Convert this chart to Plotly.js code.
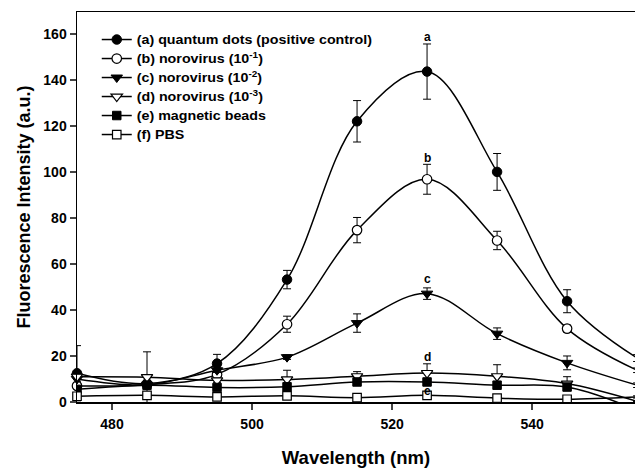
<!DOCTYPE html>
<html><head><meta charset="utf-8">
<script src="https://cdn.plot.ly/plotly-3.0.1.min.js"></script>
<style>
html,body{margin:0;padding:0;background:#fff}
#chart{width:635px;height:469px}
#chart .legendtext{transform:scaleX(1.19);transform-box:fill-box;transform-origin:left center}
#chart .legend .scrollbox, #chart .legend .groups{clip-path:none !important}
</style>
</head><body><div id="chart"></div>
<script>
const wavelength = [475, 485, 495, 505, 515, 525, 535, 545, 555];
const seriesNames = [
  "(a) quantum dots (positive control)",
  "(b) norovirus (10<sup>-1</sup>)",
  "(c) norovirus (10<sup>-2</sup>)",
  "(d) norovirus (10<sup>-3</sup>)",
  "(e) magnetic beads",
  "(f) PBS"
];
const qdots   = [12.5, 8, 16.7, 53.2, 122, 143.6, 100, 43.8, 19.1];
const qdotsErr= [12, 1.5, 4, 4, 9, 12, 8, 5, 1.5];
const noro1   = [7, 7.5, 12, 33.8, 74.7, 96.8, 70.2, 31.9, 13.8];
const noro1Err= [1, 1, 1, 3.5, 5.5, 6.5, 4, 1.5, 1];
const noro2   = [10, 7.5, 13.8, 19.5, 34.3, 47.1, 29.7, 17, 7.3];
const noro2Err= [1, 1, 1, 1, 4, 2.5, 2.5, 3, 1];
const noro3   = [11, 10.8, 9.4, 9.8, 11.2, 12.6, 11.2, 8, 0.3];
const noro3Err= [1, 11, 1, 4, 2, 4, 5, 3, 0];
const beads   = [5.5, 7.3, 6.3, 6.6, 8.7, 8.7, 7.3, 6.5, -3.5];
const beadsErr= [1, 1, 1, 1, 1, 1, 1, 1, 0];
const pbs     = [2.5, 2.9, 2.2, 2.7, 1.9, 2.9, 1.7, 1.2, 2.2];
const pbsErr  = [0.5, 0.5, 0.5, 0.5, 0.5, 0.5, 0.5, 0.5, 0.5];
const xTicks = [480, 500, 520, 540];
const yTicks = [0, 20, 40, 60, 80, 100, 120, 140, 160];
const peakLabels = ["a", "b", "c", "d", "e"];
const peakLabelY = [158.8, 106, 53.3, 19.6, 5];

const values = [qdots, noro1, noro2, noro3, beads, pbs];
const errs = [qdotsErr, noro1Err, noro2Err, noro3Err, beadsErr, pbsErr];
const symbols = ["circle", "circle", "triangle-down", "triangle-down", "square", "square"];
const hollow = [false, true, false, true, false, true];
const sizes = [9.5, 9.5, 10, 10, 8.5, 8.5];
const clip = [false, false, false, false, true, false];

const FONT = "Liberation Sans, Arial, Helvetica, sans-serif";
const traces = values.map((v, i) => ({
  x: wavelength, y: v, name: seriesNames[i], type: "scatter", mode: "lines+markers",
  line: {color: "#000", width: 1.5, shape: "spline", smoothing: 1},
  marker: {symbol: symbols[i], size: sizes[i], color: hollow[i] ? "#fff" : "#000",
           line: {color: "#000", width: hollow[i] ? 1.2 : 1}},
  error_y: {type: "data", array: errs[i], visible: true, color: "#000", thickness: 1, width: 4},
  cliponaxis: clip[i]
}));

const annotations = peakLabels.map((l, i) => ({
  x: 525, y: peakLabelY[i], xref: "x", yref: "y", text: "<b>" + l + "</b>", showarrow: false,
  font: {family: FONT, size: 12, color: "#000"}
}));

const layout = {
  width: 635, height: 469,
  margin: {l: 77, r: 0, t: 12, b: 67},
  paper_bgcolor: "#fff", plot_bgcolor: "#fff",
  showlegend: true,
  legend: {x: 0.0354, y: 0.9666, xanchor: "left", yanchor: "top", bgcolor: "rgba(0,0,0,0)",
           font: {family: FONT, size: 12, color: "#000", weight: "bold"}, tracegroupgap: 0},
  xaxis: {range: [475, 554.7], tickvals: xTicks, ticks: "outside", ticklen: 6, tickwidth: 1.5,
          showline: true, linecolor: "#000", linewidth: 1.5, mirror: true, showgrid: false, zeroline: false,
          ticklabelstandoff: 3,
          tickfont: {family: FONT, size: 14, color: "#000", weight: "bold"},
          title: {text: "Wavelength (nm)", font: {family: FONT, size: 18.5, color: "#000", weight: "bold"}, standoff: 20}},
  yaxis: {range: [0, 169.5], tickvals: yTicks, ticks: "outside", ticklen: 6, tickwidth: 1.5,
          showline: true, linecolor: "#000", linewidth: 1.5, mirror: true, showgrid: false, zeroline: false,
          tickfont: {family: FONT, size: 14, color: "#000", weight: "bold"},
          title: {text: "Fluorescence Intensity (a.u.)", font: {family: FONT, size: 18, color: "#000", weight: "bold"}, standoff: 8}},
  annotations: annotations
};
Plotly.newPlot("chart", traces, layout, {displayModeBar: false, staticPlot: true});
</script></body></html>
